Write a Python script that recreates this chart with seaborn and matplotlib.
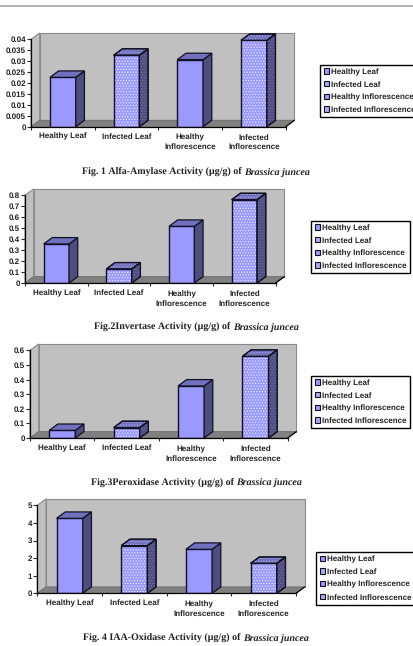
import matplotlib
matplotlib.use("Agg")
import matplotlib.pyplot as plt
import pandas as pd
import seaborn as sns
from matplotlib.lines import Line2D
from matplotlib.patches import Patch, Polygon, Rectangle
from matplotlib.transforms import IdentityTransform

W, H, DPI = 414, 646, 100

sns.set_style("white")
plt.rcParams["font.family"] = ["Liberation Sans", "DejaVu Sans"]
plt.rcParams["hatch.linewidth"] = 0.6
plt.rcParams["text.hinting"] = "no_hinting"
plt.rcParams["text.hinting_factor"] = 1

tissues = ["Healthy Leaf", "Infected Leaf", "Healthy\nInflorescence", "Infected\nInflorescence"]
legend_names = ["Healthy Leaf", "Infected Leaf", "Healthy Inflorescence", "Infected Inflorescence"]

amylase = [0.0226, 0.0327, 0.0307, 0.0395]
invertase = [0.356, 0.128, 0.517, 0.76]
peroxidase = [0.052, 0.071, 0.356, 0.559]
iaa_oxidase = [4.26, 2.71, 2.50, 1.70]

amylase_ticks = ["0", "0.005", "0.01", "0.015", "0.02", "0.025", "0.03", "0.035", "0.04"]
invertase_ticks = ["0", "0.1", "0.2", "0.3", "0.4", "0.5", "0.6", "0.7", "0.8"]
peroxidase_ticks = ["0", "0.1", "0.2", "0.3", "0.4", "0.5", "0.6"]
iaa_ticks = ["0", "1", "2", "3", "4", "5"]

FRONT = "#9999FF"
SIDE = "#4D4D80"
TOP = "#7070BE"
WALL = "#C0C0C0"
FLOOR = "#808080"
DOT_FRONT = "#E4E4FF"
DOT_SIDE = "#6E6EA8"
DOT_TOP = "#A5A5DC"
INK = "#222222"
TXT = 6.1
SERIF = 7.2
DX, DY = 8.7, 6.4
LABEL_PAD = 8.6
SECOND_LINE_PAD = 16.2

fig = plt.figure(figsize=(W / DPI, H / DPI), dpi=DPI, facecolor="white")
px = IdentityTransform()


def poly(ax, pts, face, z, edge="#111122", lw=0.9, dots=None):
    ax.add_patch(Polygon(pts, closed=True, transform=px, facecolor=face, edgecolor=edge,
                         linewidth=lw, zorder=z, clip_on=False))
    if dots:
        ax.add_patch(Polygon(pts, closed=True, transform=px, facecolor="none", edgecolor=dots,
                             linewidth=0, hatch="......", zorder=z + 0.01, clip_on=False))
        ax.add_patch(Polygon(pts, closed=True, transform=px, facecolor="none", edgecolor=edge,
                             linewidth=lw, zorder=z + 0.02, clip_on=False))


def panel(values, ticks, x0, x1, zero_y, top_y, legend_box, title, title_x, title_base):
    ax = fig.add_axes([x0 / W, 1 - zero_y / H, (x1 - x0) / W, (zero_y - top_y) / H])
    ax.patch.set_alpha(0)
    frame = pd.DataFrame({"tissue": tissues, "activity": values})
    sns.barplot(data=frame, x="tissue", y="activity", ax=ax, color=FRONT, saturation=1,
                width=0.405, edgecolor="#111122", linewidth=1.0, zorder=2)
    ymax = float(ticks[-1])
    ax.set_xlim(-0.5, 3.5)
    ax.set_ylim(0, ymax)
    ax.set_xlabel("")
    ax.set_ylabel("")
    ax.set_yticks([float(t) for t in ticks], ticks, fontsize=TXT, fontweight="bold", color=INK)
    ax.set_xticks([-0.5, 0.5, 1.5, 2.5, 3.5], [""] * 5)
    ax.set_xticks(range(4), tissues, minor=True, fontsize=TXT, fontweight="bold",
                  color=INK, linespacing=1.35)
    ax.tick_params(axis="y", which="major", left=True, length=3, width=0.8, pad=0.5)
    ax.tick_params(axis="x", which="major", bottom=True, length=2, width=0.8)
    ax.tick_params(axis="x", which="minor", bottom=False, length=0, pad=LABEL_PAD)
    # Labels sit on their last baseline, so two-line labels need the larger pad.
    for tick, name in zip(ax.xaxis.get_minor_ticks(), tissues):
        tick.label1.set_verticalalignment("baseline")
        tick.set_pad(SECOND_LINE_PAD if "\n" in name else LABEL_PAD)
    for name in ("top", "right"):
        ax.spines[name].set_visible(False)
    for name in ("left", "bottom"):
        ax.spines[name].set_color("black")
        ax.spines[name].set_linewidth(0.9)

    # Back wall, side wall and floor of the box behind the bars.
    (ax0, ay0), (ax1, ay1) = ax.transData.transform([(-0.5, 0), (3.5, ymax)])
    poly(ax, [(ax0 + DX, ay0 + DY), (ax1 + DX, ay0 + DY), (ax1 + DX, ay1 + DY), (ax0 + DX, ay1 + DY)],
         WALL, 0.2, edge="#8A8A8A", lw=0.8)
    poly(ax, [(ax0, ay0), (ax0 + DX, ay0 + DY), (ax0 + DX, ay1 + DY), (ax0, ay1)],
         WALL, 0.2, edge="#8A8A8A", lw=0.8)
    poly(ax, [(ax0, ay0), (ax1, ay0), (ax1 + DX, ay0 + DY), (ax0 + DX, ay0 + DY)],
         FLOOR, 0.3, edge="#707070", lw=0.6)
    ax.add_line(Line2D([ax1, ax1 + DX], [ay0, ay0 + DY], transform=px, color="black",
                       lw=0.9, zorder=0.4, clip_on=False))

    # Extrude every bar into a box; infected tissues carry a dotted fill.
    for i, bar in enumerate(ax.patches[:4]):
        (bx0, by0), (bx1, by1) = ax.transData.transform(
            [(bar.get_x(), 0), (bar.get_x() + bar.get_width(), bar.get_height())])
        dotted = i % 2 == 1
        poly(ax, [(bx1, by0), (bx1 + DX, by0 + DY), (bx1 + DX, by1 + DY), (bx1, by1)],
             SIDE, 2.2, dots=DOT_SIDE if dotted else None)
        poly(ax, [(bx0, by1), (bx1, by1), (bx1 + DX, by1 + DY), (bx0 + DX, by1 + DY)],
             TOP, 2.2, dots=DOT_TOP if dotted else None)
        if dotted:
            bar.set_edgecolor(DOT_FRONT)
            bar.set_hatch("......")
            bar.set_linewidth(0)
            ax.add_patch(Rectangle((bar.get_x(), 0), bar.get_width(), bar.get_height(),
                                   facecolor="none", edgecolor="#111122", linewidth=1.0, zorder=2.1))

    handles = [Patch(facecolor=FRONT, edgecolor="#111122", linewidth=0.8),
               Patch(facecolor="#ABABF5", edgecolor="#111122", linewidth=0.8),
               Patch(facecolor=FRONT, edgecolor="#111122", linewidth=0.8),
               Patch(facecolor="#ABABF5", edgecolor="#111122", linewidth=0.8)]
    lx, ly = legend_box
    leg = fig.legend(handles, legend_names, loc="upper left",
                     bbox_to_anchor=(lx / W, 1 - ly / H), bbox_transform=fig.transFigure,
                     fontsize=TXT, frameon=True, fancybox=False, edgecolor="black",
                     facecolor="white", framealpha=1, borderpad=0.42, labelspacing=0.62,
                     handlelength=0.6, handleheight=0.6, handletextpad=0.25,
                     borderaxespad=0)
    leg.get_frame().set_linewidth(1.0)
    for label in leg.get_texts():
        label.set_fontweight("bold")
        label.set_color(INK)

    # Caption: upright lead-in, then the species name in italics on the same line.
    head, species = title
    first = fig.text(title_x / W, 1 - title_base / H, head, family="Liberation Serif",
                     fontweight="bold", fontsize=SERIF, va="baseline", ha="left", color=INK)
    fig.add_artist(plt.Annotation(species, xy=(1, H - title_base - 1.2), xycoords=(first, "figure pixels"),
                                  family="Liberation Serif", fontweight="bold", fontstyle="italic",
                                  fontsize=SERIF, va="baseline", ha="left", color=INK))


panel(amylase, amylase_ticks, 31, 285.7, 126.7, 39.3, (320, 64.7),
      ("Fig. 1 Alfa-Amylase Activity (µg/g) of ", "Brassica juncea"), 82, 174.2)
panel(invertase, invertase_ticks, 25, 275.7, 283, 195.3, (311.3, 220.7),
      ("Fig.2Invertase Activity (µg/g) of ", "Brassica juncea"), 94, 329.2)
panel(peroxidase, peroxidase_ticks, 30, 287.7, 438, 350.3, (311.3, 375.7),
      ("Fig.3Peroxidase Activity (µg/g) of ", "Brassica juncea"), 90.7, 484.8)
panel(iaa_oxidase, iaa_ticks, 37.3, 296, 593.3, 505.3, (316.3, 552),
      ("Fig. 4 IAA-Oxidase Activity (µg/g) of ", "Brassica juncea"), 83, 640.2)

# Page rule above the first chart.
fig.add_artist(Line2D([0, 1], [1 - 5.7 / H] * 2, transform=fig.transFigure, color="#ABABAB", lw=1.3))

fig.savefig("out.png", dpi=DPI, facecolor="white")
